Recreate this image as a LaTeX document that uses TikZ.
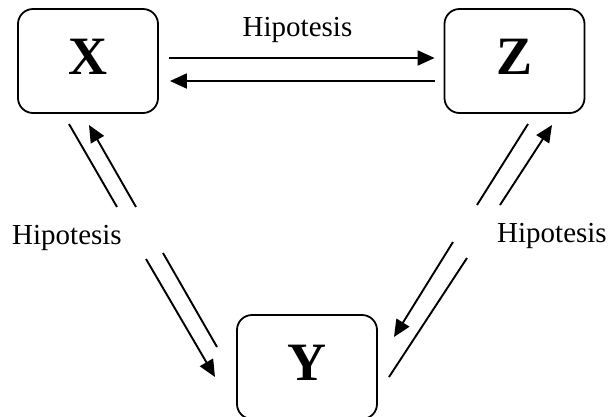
\documentclass[tikz,border=0pt]{standalone}
\usepackage{fontspec}
\setmainfont{Liberation Serif}
\usetikzlibrary{arrows.meta}

\tikzset{
  varbox/.style={draw, line width=1.8pt, rounded corners=15pt,
    minimum width=140pt, minimum height=104pt, inner sep=0pt,
    font=\fontsize{54}{60}\selectfont\bfseries, text depth=9pt},
  link/.style={line width=1.9pt},
  arrowlink/.style={link, -{Triangle[length=17pt,width=15pt]}},
  hyp/.style={font=\fontsize{29}{34}\selectfont, inner sep=0pt}
}

\begin{document}
\begin{tikzpicture}[x=1pt, y=-1pt]
  \useasboundingbox (0,0) rectangle (608,416);
  \clip (0,0) rectangle (608,416);

  % variables
  \node[varbox] (X) at (88,61) {X};
  \node[varbox] (Z) at (514.5,61) {Z};
  \node[varbox] (Y) at (307,367) {Y};

  % hypothesis labels
  \node[hyp, anchor=base] (hxz) at (297.5,36) {Hipotesis};
  \node[hyp, anchor=base west] (hxy) at (12,244) {Hipotesis};
  \node[hyp, anchor=base west] (hzy) at (497,242) {Hipotesis};

  % X <-> Z
  \draw[arrowlink] ([xshift=10pt,yshift=3pt]X.east) -- ([xshift=-9pt,yshift=3pt]Z.west);
  \draw[arrowlink] ([xshift=-9pt,yshift=-20pt]Z.west) -- ([xshift=11pt,yshift=-20pt]X.east);

  % X <-> Y, broken around the label
  \coordinate (xa1) at (69,124);
  \coordinate (xa2) at (117,207);
  \coordinate (xa3) at (146,259);
  \coordinate (ya)  at (215,377);
  \draw[link] (xa1) -- (xa2);
  \draw[arrowlink] (xa3) -- (ya);

  \coordinate (yb1) at (217,347);
  \coordinate (yb2) at (163,253);
  \coordinate (yb3) at (136,207);
  \coordinate (xb)  at (89,125);
  \draw[link] (yb1) -- (yb2);
  \draw[arrowlink] (yb3) -- (xb);

  % Z <-> Y, broken around the label
  \coordinate (zc1) at (528,124);
  \coordinate (zc2) at (477,205);
  \coordinate (zc3) at (453,242);
  \coordinate (yc)  at (394,337);
  \draw[link] (zc1) -- (zc2);
  \draw[arrowlink] (zc3) -- (yc);

  \coordinate (yd1) at (389,377);
  \coordinate (yd2) at (467,258);
  \coordinate (yd3) at (500,205);
  \coordinate (zd)  at (552,125);
  \draw[link] (yd1) -- (yd2);
  \draw[arrowlink] (yd3) -- (zd);
\end{tikzpicture}
\end{document}
